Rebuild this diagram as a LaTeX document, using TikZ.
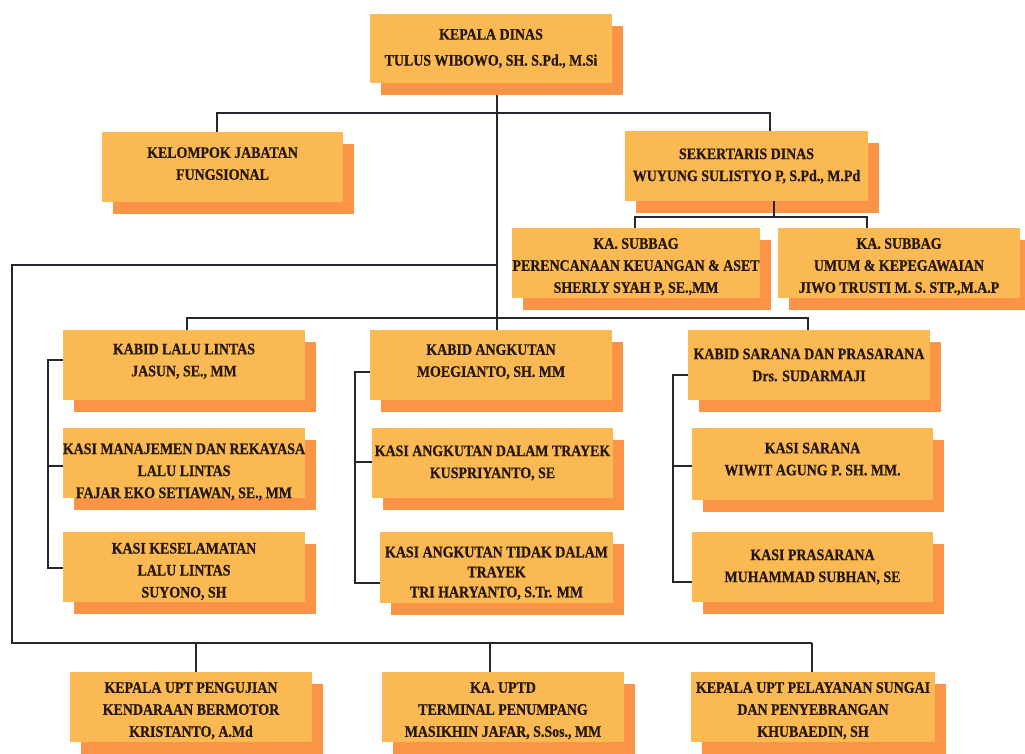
\documentclass[tikz,border=0pt]{standalone}
\usepackage{fontspec}
\newfontfamily\orgfont{Liberation Serif}[FakeStretch=0.87, BoldFeatures={FakeBold=0.6}]
\usetikzlibrary{shadows,backgrounds}
\definecolor{boxfill}{HTML}{FBB954}
\definecolor{boxshade}{HTML}{FC9448}
\definecolor{txt}{HTML}{24180A}
\definecolor{linec}{HTML}{26262E}
\begin{document}
\begin{tikzpicture}[x=1pt,y=-1pt,
  orgbox/.style={fill=boxfill,
    general shadow={fill=boxshade, shadow xshift=11pt, shadow yshift=-12pt},
    minimum width=242pt, minimum height=70pt, inner xsep=0pt, inner ysep=2pt,
    align=center, text=txt, font=\orgfont\bfseries\fontsize{16}{22}\selectfont},
  textdp/.style={text depth=#1},
  textht/.style={text height=#1},
  conn/.style={draw=linec, line width=1.7pt}]
\useasboundingbox (0,0) rectangle (1025,753);
\clip (0,0) rectangle (1025,753);

% boxes
\node[orgbox, minimum height=69pt] (kd) at (491,48.5) {KEPALA DINAS\\[4pt]TULUS WIBOWO, SH. S.Pd., M.Si};
\node[orgbox, minimum width=241pt, textdp=7pt] (kjf) at (222.5,167) {KELOMPOK JABATAN\\FUNGSIONAL};
\node[orgbox, minimum width=243pt] (sek) at (746.5,166) {SEKERTARIS DINAS\\WUYUNG SULISTYO P, S.Pd., M.Pd};
\node[orgbox, textht=62pt] (sb1) at (636,263) {KA. SUBBAG\\PERENCANAAN KEUANGAN \& ASET\\SHERLY SYAH P, SE.,MM};
\node[orgbox, textht=62pt] (sb2) at (899,263) {KA. SUBBAG\\UMUM \& KEPEGAWAIAN\\JIWO TRUSTI M. S. STP.,M.A.P};

\node[orgbox, textdp=10pt] (k1) at (184,365) {KABID LALU LINTAS\\JASUN, SE., MM};
\node[orgbox, inner ysep=0pt, textht=70pt, textdp=0pt] (s11) at (184,463) {KASI MANAJEMEN DAN REKAYASA\\LALU LINTAS\\FAJAR EKO SETIAWAN, SE., MM};
\node[orgbox, textht=63.5pt] (s12) at (184,567) {KASI KESELAMATAN\\LALU LINTAS\\SUYONO, SH};

\node[orgbox, textdp=9pt] (k2) at (491,365) {KABID ANGKUTAN\\MOEGIANTO, SH. MM};
\node[orgbox, minimum width=241pt] (s21) at (492.5,463) {KASI ANGKUTAN DALAM TRAYEK\\KUSPRIYANTO, SE};
\node[orgbox, minimum width=233pt, minimum height=71pt, textht=62pt,
  font=\orgfont\bfseries\fontsize{16}{20}\selectfont] (s22) at (496.5,567.5) {KASI ANGKUTAN TIDAK DALAM\\TRAYEK\\TRI HARYANTO, S.Tr. MM};

\node[orgbox] (k3) at (809,365) {KABID SARANA DAN PRASARANA\\Drs. SUDARMAJI};
\node[orgbox, minimum width=241pt, minimum height=72pt, textdp=10pt] (s31) at (812.5,464) {KASI SARANA\\WIWIT AGUNG P. SH. MM.};
\node[orgbox, minimum width=241pt] (s32) at (812.5,567) {KASI PRASARANA\\MUHAMMAD SUBHAN, SE};

\node[orgbox, textht=62pt] (u1) at (191,707) {KEPALA UPT PENGUJIAN\\KENDARAAN BERMOTOR\\KRISTANTO, A.Md};
\node[orgbox, textht=62pt] (u2) at (503,707) {KA. UPTD\\TERMINAL PENUMPANG\\MASIKHIN JAFAR, S.Sos., MM};
\node[orgbox, minimum width=244pt, textht=62pt] (u3) at (813,707) {KEPALA UPT PELAYANAN SUNGAI\\DAN PENYEBRANGAN\\KHUBAEDIN, SH};

% helper coordinates for connector columns/rows
\coordinate (xspine) at (497,113);
\coordinate (xkjf) at (217,113);
\coordinate (xsek) at (770,113);
\coordinate (xsub) at (774,217);
\coordinate (xsb1) at (635,217);
\coordinate (xsb2) at (867,217);
\coordinate (jleft) at (497,265);
\coordinate (cornerL) at (12,643);
\coordinate (xu1) at (196,643);
\coordinate (xu2) at (490,643);
\coordinate (xu3) at (812,643);
\coordinate (xk1) at (187,318);
\coordinate (xk3) at (808,318);
\coordinate (bl) at (48,0);
\coordinate (bm) at (355,0);
\coordinate (br) at (673,0);

\begin{scope}[on background layer]
  \fill[white] (0,0) rectangle (1025,753);
  % head to bus and spine
  \draw[conn] (kd.south -| xspine) -- (k2.north -| xspine);
  \draw[conn] (kjf.north -| xkjf) |- (xsek) -- (sek.north -| xsek);
  % left loop to UPT units
  \draw[conn] (jleft) -| (cornerL) -- (xu3);
  \draw[conn] (xu1) -- (u1.north -| xu1);
  \draw[conn] (xu2) -- (u2.north -| xu2);
  \draw[conn] (xu3) -- (u3.north -| xu3);
  % kabid bus
  \draw[conn] (k1.north -| xk1) |- (xk3) -- (k3.north -| xk3);
  % subbag bus
  \draw[conn] (sb1.north -| xsb1) |- (xsb2) -- (sb2.north -| xsb2);
  % brackets
  \draw[conn] (k1.west |- 0,360) -- (bl |- 0,360) -- (bl |- 0,568) -- (s12.west |- 0,568);
  \draw[conn] (bl |- 0,466) -- (s11.west |- 0,466);
  \draw[conn] (k2.west |- 0,372) -- (bm |- 0,372) -- (bm |- 0,583) -- (s22.west |- 0,583);
  \draw[conn] (bm |- 0,462) -- (s21.west |- 0,462);
  \draw[conn] (k3.west |- 0,375) -- (br |- 0,375) -- (br |- 0,582) -- (s32.west |- 0,582);
  \draw[conn] (br |- 0,466) -- (s31.west |- 0,466);
\end{scope}
\draw[conn] (sek.south -| xsub) -- (xsub);
\end{tikzpicture}
\end{document}
